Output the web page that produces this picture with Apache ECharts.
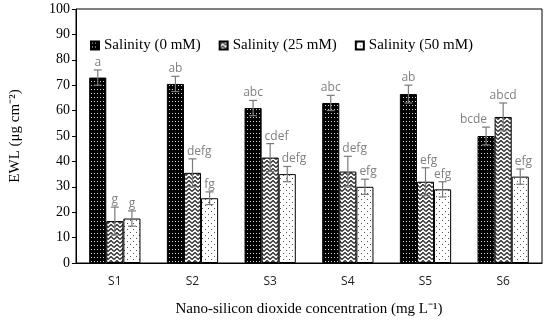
<!DOCTYPE html>
<html><head><meta charset="utf-8">
<script src="https://cdn.jsdelivr.net/npm/echarts@6/dist/echarts.min.js"></script>
<style>html,body{margin:0;padding:0;background:#fff}#c{width:550px;height:322px}</style>
</head><body><div id="c"></div>
<script>
const categories = ['S1','S2','S3','S4','S5','S6'];
const seriesNames = ['Salinity (0 mM)','Salinity (25 mM)','Salinity (50 mM)'];
const vals0 = [73, 70.5, 61, 63, 66.5, 50];
const vals25 = [16.5, 35.5, 41.5, 36, 32, 57.5];
const vals50 = [17.5, 25.5, 35, 30, 29, 34];
const err0 = [3, 3, 3, 3, 3.5, 3.5];
const err25 = [5.5, 5.5, 5.5, 6, 5.5, 5.5];
const err50 = [3, 2.5, 3, 3, 3, 3];
const lab0 = ['a','ab','abc','abc','ab','bcde'];
const lab25 = ['g','defg','cdef','defg','efg','abcd'];
const lab50 = ['g','fg','defg','efg','efg','efg'];

function mk(w,h,draw){const c=document.createElement('canvas');c.width=w;c.height=h;const x=c.getContext('2d');draw(x);return c;}
const pat0 = mk(3,4,x=>{x.fillStyle='#000';x.fillRect(0,0,3,4);x.fillStyle='#ddd';x.fillRect(1,1,1,1);});
const pat1 = mk(6,4,x=>{x.fillStyle='#fff';x.fillRect(0,0,6,4);x.strokeStyle='#333';x.lineWidth=1.4;x.beginPath();x.moveTo(0,3.5);x.lineTo(3,0.5);x.lineTo(6,3.5);x.stroke();x.beginPath();x.moveTo(-3,0.5);x.lineTo(0,3.5);x.stroke();});
const pat2 = mk(6,6,x=>{x.fillStyle='#fff';x.fillRect(0,0,6,6);x.fillStyle='#555';x.fillRect(1,1,1,1);x.fillRect(4,4,1,1);});
const pats = [pat0,pat1,pat2];
const vals=[vals0,vals25,vals50], errs=[err0,err25,err50], labs=[lab0,lab25,lab50];
const GAP = 0.34;
const LFONT = '12px "Open Sans"';
const mctx = document.createElement('canvas').getContext('2d'); mctx.font = LFONT;

const errData=[];
for(let s=0;s<3;s++) for(let i=0;i<categories.length;i++) errData.push([i, vals[s][i], errs[s][i], s]);

const chart = echarts.init(document.getElementById('c'));
chart.setOption({
  animation:false,
  grid:{left:70,right:8,top:9,bottom:53,show:true,borderColor:'#000',borderWidth:1,backgroundColor:'transparent'},
  legend:{data:seriesNames,left:85,top:33,itemWidth:8,itemHeight:8,itemGap:18,icon:'rect',
    textStyle:{fontFamily:'Liberation Serif',fontSize:15,color:'#000'}},
  xAxis:{type:'category',data:categories,
    axisLine:{lineStyle:{color:'#000'}},axisTick:{show:false},
    axisLabel:{fontFamily:'Open Sans',fontSize:12,color:'#222',margin:13},
    name:'Nano-silicon dioxide concentration (mg L⁻¹)',nameLocation:'middle',nameGap:39,
    nameTextStyle:{fontFamily:'Liberation Serif',fontSize:15,color:'#000'}},
  yAxis:{type:'value',min:0,max:100,interval:10,
    axisLine:{show:true,lineStyle:{color:'#000'}},axisTick:{show:true,length:4,lineStyle:{color:'#000'}},
    splitLine:{show:false},
    axisLabel:{fontFamily:'Liberation Serif',fontSize:14,color:'#000',margin:6},
    name:'EWL (μg cm⁻²)',nameLocation:'middle',nameGap:53,nameRotate:90,
    nameTextStyle:{fontFamily:'Liberation Serif',fontSize:15,color:'#000'}},
  series:[
    ...[0,1,2].map(s=>({type:'bar',name:seriesNames[s],data:vals[s],barGap:'0%',barCategoryGap:(GAP*100)+'%',
      itemStyle:{color:{image:pats[s],repeat:'repeat'},borderColor:'#000',borderWidth:1}})),
    {type:'custom',data:errData,z:10,silent:true,
      renderItem:function(params,api){
        const i=api.value(0),v=api.value(1),e=api.value(2),s=api.value(3);
        const cw=api.size([1,0])[0];
        const bw=cw*(1-GAP)/3;
        const c=api.coord([i,v]);
        const x=c[0]+(s-1)*bw;
        const yt=api.coord([i,v+e])[1], yb=api.coord([i,v-e])[1];
        const cap=4;
        const st={stroke:'#7a7a7a',lineWidth:1.2};
        const txt=labs[s][i];
        const tw=mctx.measureText(txt).width;
        let left=x-tw/2;
        const top=v+e+1.5;
        if(s<2 && vals[s+1][i]>top) left=Math.min(left,x+1-tw);
        if(s>0 && vals[s-1][i]>top) left=Math.max(left,x-bw/2+3);
        return {type:'group',children:[
          {type:'line',shape:{x1:x,y1:yt,x2:x,y2:yb},style:st},
          {type:'line',shape:{x1:x-cap,y1:yt,x2:x+cap,y2:yt},style:st},
          {type:'line',shape:{x1:x-cap,y1:yb,x2:x+cap,y2:yb},style:st},
          {type:'text',x:left,y:yt-1.5,z2:100,style:{text:txt,fill:'#808080',
            font:LFONT,textAlign:'left',textVerticalAlign:'bottom'}}
        ]};
      }}
  ]
});
</script></body></html>
